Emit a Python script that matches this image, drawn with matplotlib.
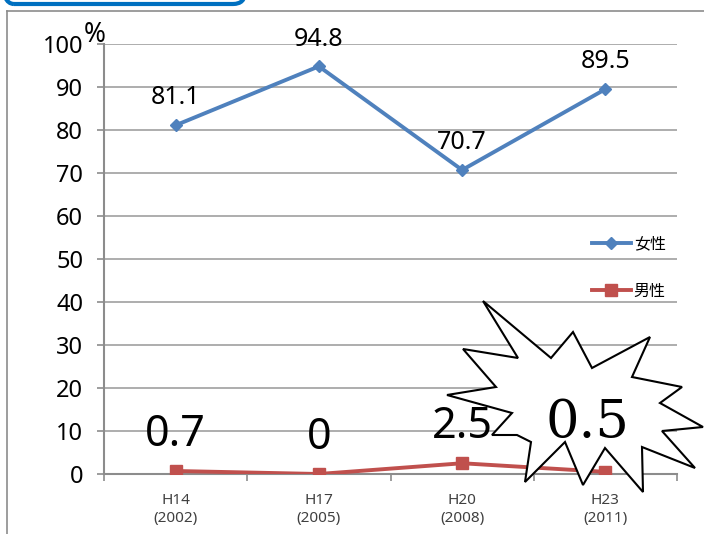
import matplotlib
matplotlib.use('Agg')
import matplotlib.pyplot as plt
from matplotlib.patches import Polygon, FancyBboxPatch
from matplotlib.lines import Line2D
from matplotlib.transforms import IdentityTransform

plt.rcParams['font.family'] = ['Noto Sans', 'Noto Sans CJK JP', 'DejaVu Sans']

# datos
categorias = ['H14\n(2002)', 'H17\n(2005)', 'H20\n(2008)', 'H23\n(2011)']
mujeres = [81.1, 94.8, 70.7, 89.5]
hombres = [0.7, 0, 2.5, 0.5]
etiquetas_hombres = ['0.7', '0', '2.5']
serie_mujeres = '女性'
serie_hombres = '男性'

AZUL = '#4F81BD'
ROJO = '#C0504D'
GRIS = '#8C8C8C'

W, H = 704, 534
fig = plt.figure(figsize=(W / 100, H / 100), dpi=100)
ax = fig.add_axes([104 / W, 60 / H, 573 / W, 430 / H])

x = list(range(len(categorias)))
ax.plot(x, mujeres, '-', color=AZUL, lw=2.8, marker='D', ms=6.5, label=serie_mujeres, zorder=3)
ax.plot(x, hombres, '-', color=ROJO, lw=2.8, marker='s', ms=8, label=serie_hombres, zorder=3)

ax.set_xlim(-0.5, len(categorias) - 0.5)
ax.set_ylim(0, 100)
ax.set_yticks(range(0, 101, 10))
ax.yaxis.grid(True, color='#A0A0A0', lw=1.2)
ax.set_axisbelow(True)
for s in ['top', 'right']:
    ax.spines[s].set_visible(False)
for s in ['left', 'bottom']:
    ax.spines[s].set_color(GRIS)
    ax.spines[s].set_linewidth(1.5)
ax.tick_params(axis='y', length=5, width=1.2, color=GRIS, pad=10, labelsize=17)
ax.set_xticks(x)
ax.set_xticklabels(categorias, fontsize=11, color='#404040')
ax.tick_params(axis='x', which='major', length=0, pad=14)
ax.set_xticks([i - 0.5 for i in range(len(categorias) + 1)], minor=True)
ax.tick_params(axis='x', which='minor', length=5, width=1.2, color=GRIS)

# etiquetas de datos
for xi, v in zip(x, mujeres):
    ax.annotate(f'{v}', (xi, v), xytext=(0, 15), textcoords='offset points',
                ha='center', va='baseline', fontsize=18)
for xi, v, t in zip(x, hombres, etiquetas_hombres):
    ax.annotate(t, (xi, v), xytext=(0, 18), textcoords='offset points',
                ha='center', va='baseline', fontsize=31)

# leyenda
ax.legend(loc='center left', bbox_to_anchor=(0.852, 0.48), frameon=False,
          handlelength=2.4, handletextpad=0.2, labelspacing=1.9,
          borderpad=0, borderaxespad=0,
          prop={'family': ['Noto Sans CJK JP'], 'size': 11.5})

# marco exterior
fig.add_artist(Line2D([7 / W, 7 / W], [0, 1 - 11 / H], color=GRIS, lw=1.2, transform=fig.transFigure))
fig.add_artist(Line2D([7 / W, 1], [1 - 11 / H, 1 - 11 / H], color=GRIS, lw=1.2, transform=fig.transFigure))

# caja azul arriba
caja = FancyBboxPatch((2, H - 4), 243, 40, boxstyle='round,pad=0,rounding_size=12',
                      transform=IdentityTransform(), facecolor='none', edgecolor='#0070C0', lw=3)
fig.add_artist(caja)

fig.text(95 / W, 1 - 35 / H, '%', ha='center', va='center', fontsize=19, fontweight='bold')

# estrella
estrella = [(483, 301), (551, 358), (573, 332), (592, 368), (650, 337), (632, 377),
            (682, 387), (660, 403), (703, 427), (662, 431), (695, 468), (642, 447),
            (643, 492), (605, 448), (583, 485), (565, 442), (525, 482), (531, 442),
            (517, 435), (492, 435), (512, 413), (447, 395), (496, 387), (463, 349),
            (518, 358)]
estrella = [(px / W, 1 - py / H) for px, py in estrella]
ax.add_patch(Polygon(estrella, closed=True, facecolor='white', edgecolor='black',
                     lw=1.5, transform=fig.transFigure, clip_on=False, zorder=5))
ax.annotate(f'{hombres[3]}', (3, hombres[3]), xytext=(-13, 25), textcoords='offset points',
            ha='center', va='baseline', fontsize=38, family='DejaVu Serif',
            annotation_clip=False, zorder=6)

fig.savefig('out.png', dpi=100)
